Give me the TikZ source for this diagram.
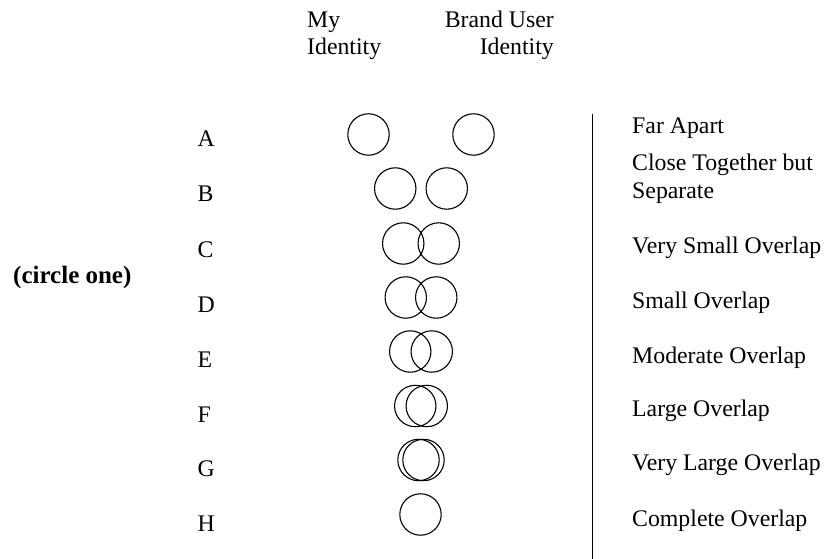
\documentclass[tikz,border=0pt]{standalone}
\usepackage{fontspec}
\setmainfont{Liberation Serif}
\begin{document}
\begin{tikzpicture}[x=1pt,y=-1pt,
  txt/.style={inner sep=0pt,anchor=base west,font=\fontsize{23.8}{28}\selectfont},
  rowlabel/.style={txt},
  ring/.style={draw,circle,line width=1.1pt,minimum size=41.4pt,inner sep=0pt},
  divider/.style={line width=1.1pt}]
  \useasboundingbox (0,0) rectangle (828,559);

  % column headings
  \node[txt] (my)  at (307,28) {My};
  \node[txt] (myid) at (307,55) {Identity};
  \node[txt,anchor=base east] (brand) at (554,28) {Brand User};
  \node[txt,anchor=base east] (brandid) at (554,55) {Identity};

  % instruction
  \node[txt,font=\fontsize{25}{28}\selectfont\bfseries] (instr) at (13,283) {(circle one)};

  % row letters
  \node[rowlabel] (lA) at (197.5,146.5) {A};
  \node[rowlabel] (lB) at (197.5,201.5) {B};
  \node[rowlabel] (lC) at (197.5,257) {C};
  \node[rowlabel] (lD) at (197.5,312) {D};
  \node[rowlabel] (lE) at (197.5,367) {E};
  \node[rowlabel] (lF) at (197.5,422) {F};
  \node[rowlabel] (lG) at (197.5,476.5) {G};
  \node[rowlabel] (lH) at (197.5,531) {H};

  % pairs of identity circles, from far apart to complete overlap
  \node[ring] (aL) at (421-52.5,134.5) {};
  \node[ring] (aR) at (421+52.5,134.5) {};
  \node[ring] (bL) at (421-25.75,188.5) {};
  \node[ring] (bR) at (421+25.75,188.5) {};
  \node[ring] (cL) at (421-17.75,243.5) {};
  \node[ring] (cR) at (421+17.75,243.5) {};
  \node[ring] (dL) at (421-15.25,297.5) {};
  \node[ring] (dR) at (421+15.25,297.5) {};
  \node[ring] (eL) at (421-10.75,351.5) {};
  \node[ring] (eR) at (421+10.75,351.5) {};
  \node[ring] (fL) at (421-5.75,406) {};
  \node[ring] (fR) at (421+5.75,406) {};
  \node[ring] (gL) at (421-2.5,460) {};
  \node[ring] (gR) at (421+2.5,460) {};
  \node[ring] (hC) at (420.5,514.5) {};

  % divider
  \coordinate (divtop) at (592.5,114);
  \coordinate (divbot) at (592.5,559);
  \draw[divider] (divtop) -- (divbot);

  % descriptions
  \node[txt] (dA)  at (632,133.5) {Far Apart};
  \node[txt] (dB1) at (632,170.5) {Close Together but};
  \node[txt] (dB2) at (632,198.5) {Separate};
  \node[txt] (dC)  at (632,253.5) {Very Small Overlap};
  \node[txt] (dD)  at (632,308.5) {Small Overlap};
  \node[txt] (dE)  at (632,363.5) {Moderate Overlap};
  \node[txt] (dF)  at (632,416.5) {Large Overlap};
  \node[txt] (dG)  at (632,470.5) {Very Large Overlap};
  \node[txt] (dH)  at (632,526.5) {Complete Overlap};
\end{tikzpicture}
\end{document}
